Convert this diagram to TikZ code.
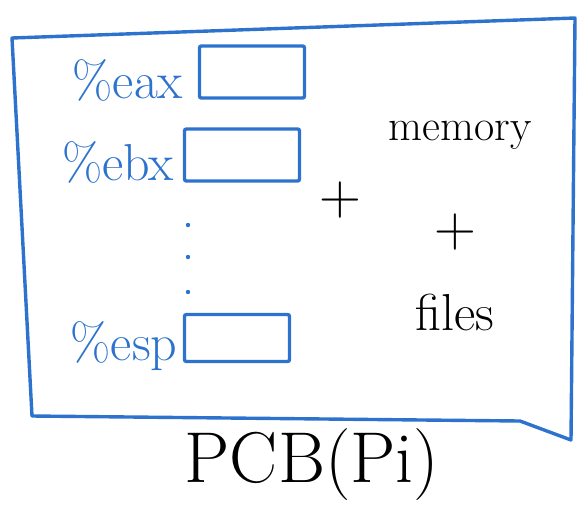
\documentclass[tikz,border=0pt]{standalone}
\usepackage{fontspec}
\usepackage{tikz}
\usetikzlibrary{positioning}
\definecolor{penblue}{RGB}{45,115,205}

\begin{document}
\begin{tikzpicture}[x=1pt,y=-1pt,
	reg/.style={text=penblue, font=\fontsize{52}{56}\selectfont, inner sep=0pt, anchor=base},
	regbox/.style 2 args={draw=penblue, line width=3.4pt, rounded corners=2pt, minimum width=#1, minimum height=#2, inner sep=0pt},
	ink/.style={font=\fontsize{44}{48}\selectfont, inner sep=0pt, anchor=base}]
			\useasboundingbox (0,0) rectangle (578,504);
			% the PCB frame
			\draw[penblue, line width=3.4pt, line join=round] (12,38) -- (575,18) -- (571,440) -- (520,421) -- (32,416) -- cycle;
			% registers
			\node[reg] (eax) at (128,98) {\%eax};
			\node[regbox={105pt}{52pt}] (eaxbox) at (252,72) {};
			\node[reg] (ebx) at (118,180) {\%ebx};
			\node[regbox={115pt}{52pt}] (ebxbox) at (242,155) {};
			\foreach \y in {225,257,292}
				\fill[penblue] (188,\y) circle (2.2pt);
			\node[reg] (esp) at (124,360) {\%esp};
			\node[regbox={105pt}{47pt}] (espbox) at (237,338) {};
			% the rest of the process
			\node[ink] (memory) at (460,140) {memory};
			\node[ink, anchor=center, font=\fontsize{58}{62}\selectfont] (plusa) at (340,200) {+};
			\node[ink, anchor=center, font=\fontsize{58}{62}\selectfont] (plusb) at (455,232) {+};
			\node[ink, font=\fontsize{52}{56}\selectfont] (files) at (455,330) {files};
			\node[ink, font=\fontsize{72}{78}\selectfont] (pcb) at (312,482) {PCB(Pi)};
\end{tikzpicture}
\end{document}
